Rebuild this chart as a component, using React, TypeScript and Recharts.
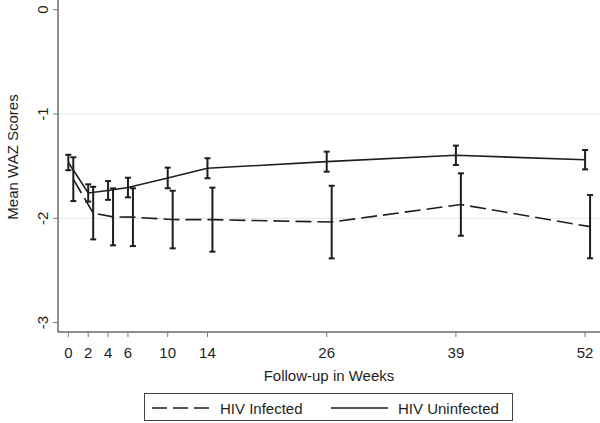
import { LineChart, Line, XAxis, YAxis, ErrorBar, ReferenceLine, Legend } from 'recharts'

// follow-up visits (weeks)
const WEEKS = [0, 2, 4, 6, 10, 14, 26, 39, 52]

// mean WAZ and 95% CI half-width per visit
const UNINFECTED_MEAN = [-1.465, -1.757, -1.733, -1.705, -1.613, -1.52, -1.457, -1.396, -1.438]
const UNINFECTED_CI = [0.074, 0.083, 0.09, 0.094, 0.099, 0.096, 0.096, 0.093, 0.093]
const INFECTED_MEAN = [-1.625, -1.95, -1.986, -1.989, -2.012, -2.013, -2.036, -1.868, -2.08]
const INFECTED_CI = [0.21, 0.252, 0.273, 0.277, 0.276, 0.307, 0.348, 0.299, 0.303]

const X_TICKS = [0, 2, 4, 6, 10, 14, 26, 39, 52]
const Y_TICKS = [0, -1, -2, -3]
const GRID_VALUES = [-1, -2]

// infected bars are nudged right so they don't sit on top of each other
const INFECTED_SHIFT = 0.5

const uninfectedRows = WEEKS.map((w, i) => ({ x: w, mean: UNINFECTED_MEAN[i], ci: UNINFECTED_CI[i] }))
const infectedRows = WEEKS.map((w, i) => ({ x: w + INFECTED_SHIFT, mean: INFECTED_MEAN[i], ci: INFECTED_CI[i] }))

const INK = '#1e1e1e'
const FONT = '"Liberation Sans", Arial, sans-serif'

const YTick = ({ x, y, payload }: any) => (
  <text
    x={x}
    y={y}
    transform={`rotate(-90 ${x} ${y})`}
    textAnchor="middle"
    fontSize={15}
    fill={INK}
  >
    {payload.value}
  </text>
)

const YTitle = () => (
  <text x={18} y={157} transform="rotate(-90 18 157)" textAnchor="middle" fontSize={15} fill={INK}>
    Mean WAZ Scores
  </text>
)

const LegendBox = () => (
  <div style={{ position: 'relative', width: 600, height: 30 }}>
    <div
      style={{
        position: 'absolute',
        left: 144,
        top: 0,
        width: 369,
        height: 28,
        boxSizing: 'border-box',
        border: '1px solid #444',
      }}
    >
      <svg width={367} height={26} style={{ position: 'absolute', left: 0, top: 0 }}>
        <line x1={7} y1={14} x2={64} y2={14} stroke={INK} strokeWidth={1.6} strokeDasharray="15 6" />
        <text x={75} y={19.5} fontSize={15} fill={INK}>HIV Infected</text>
        <line x1={186} y1={14} x2={243} y2={14} stroke={INK} strokeWidth={1.6} />
        <text x={253} y={19.5} fontSize={15} fill={INK}>HIV Uninfected</text>
      </svg>
    </div>
  </div>
)

export default function App() {
  return (
    <div style={{ position: 'absolute', left: 0, top: 0, fontFamily: FONT, background: '#fff' }}>
      <LineChart width={600} height={423} margin={{ top: 0, right: 0, bottom: 0, left: 0 }}>
        <XAxis
          type="number"
          dataKey="x"
          domain={[-1.04, 53.5]}
          ticks={X_TICKS}
          height={61}
          tickSize={5}
          tickMargin={10}
          tick={{ fontSize: 15, fill: INK }}
          axisLine={{ stroke: INK }}
          tickLine={{ stroke: '#777' }}
          label={{ value: 'Follow-up in Weeks', position: 'insideBottom', offset: 12, fontSize: 15, fill: INK }}
        />
        <YAxis
          type="number"
          domain={[-3.09, 0.093]}
          ticks={Y_TICKS}
          width={58}
          tickSize={5}
          tickMargin={5}
          tick={<YTick />}
          axisLine={{ stroke: INK }}
          tickLine={{ stroke: '#777' }}
          label={<YTitle />}
        />
        {GRID_VALUES.map(v => (
          <ReferenceLine key={v} y={v} stroke="#dde9e9" strokeWidth={1} />
        ))}
        <Line
          data={infectedRows}
          dataKey="mean"
          name="HIV Infected"
          stroke={INK}
          strokeWidth={1.6}
          strokeDasharray="16 6"
          dot={false}
          activeDot={false}
          isAnimationActive={false}
        >
          <ErrorBar dataKey="ci" direction="y" width={3} stroke={INK} strokeWidth={2} isAnimationActive={false} />
        </Line>
        <Line
          data={uninfectedRows}
          dataKey="mean"
          name="HIV Uninfected"
          stroke={INK}
          strokeWidth={1.6}
          dot={false}
          activeDot={false}
          isAnimationActive={false}
        >
          <ErrorBar dataKey="ci" direction="y" width={3} stroke={INK} strokeWidth={2} isAnimationActive={false} />
        </Line>
        <Legend verticalAlign="bottom" content={<LegendBox />} />
      </LineChart>
    </div>
  )
}
